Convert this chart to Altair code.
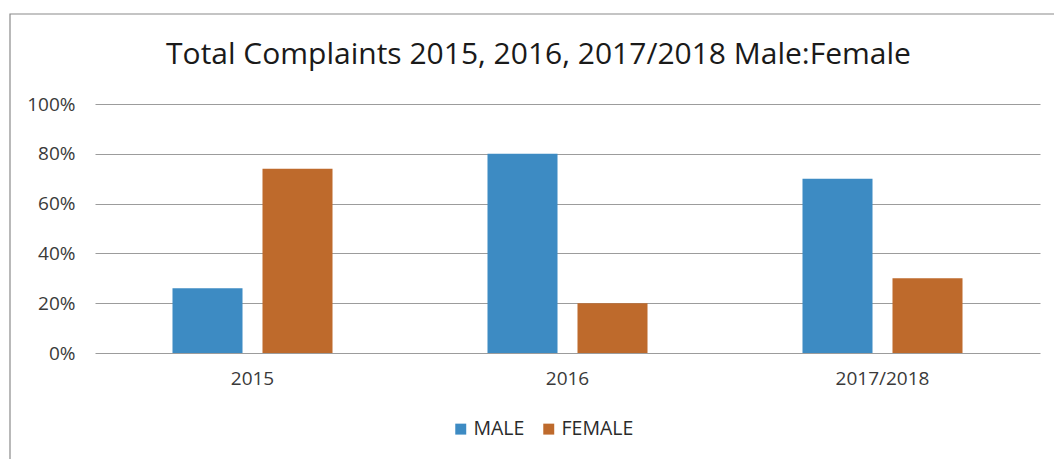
import altair as alt
import pandas as pd

periods = ["2015", "2016", "2017/2018"]
male = [0.26, 0.80, 0.70]
female = [0.74, 0.20, 0.30]
series = ["MALE", "FEMALE"]
colors = ["#3D8BC3", "#BE6A2C"]

rows = []
for i, p in enumerate(periods):
    rows.append({"period": p, "sex": "MALE", "value": male[i]})
    rows.append({"period": p, "sex": "FEMALE", "value": female[i]})
df = pd.DataFrame(rows)

FONT = "Open Sans"

frame = alt.Chart(pd.DataFrame({"a": [0]})).mark_rect(
    fill=None, fillOpacity=0, stroke="#8a8a8a", strokeWidth=1.2, clip=False
).encode(
    x=alt.value(-85), x2=alt.value(975), y=alt.value(-90), y2=alt.value(370)
)

bars = alt.Chart(df).mark_bar(stroke=None).encode(
    x=alt.X("period:N", sort=periods, title=None,
            scale=alt.Scale(paddingInner=0, paddingOuter=0),
            axis=alt.Axis(labelAngle=0, ticks=False, domain=False, grid=False,
                          labelFont=FONT, labelFontSize=19, labelColor="#3a3a3a",
                          labelPadding=16)),
    xOffset=alt.XOffset("sex:N", sort=series,
                        scale=alt.Scale(paddingInner=0.222, paddingOuter=0.861)),
    y=alt.Y("value:Q", title=None,
            scale=alt.Scale(domain=[0, 1]),
            axis=alt.Axis(format=".0%", values=[0, 0.2, 0.4, 0.6, 0.8, 1.0],
                          ticks=False, domain=False, gridColor="#9c9c9c",
                          gridWidth=1, labelFont=FONT, labelFontSize=19,
                          labelColor="#3a3a3a", labelPadding=20)),
    color=alt.Color("sex:N", sort=series,
                    scale=alt.Scale(domain=series, range=colors),
                    legend=alt.Legend(title=None, orient="none", direction="horizontal",
                                      legendX=356, legendY=315,
                                      symbolType="square", symbolSize=120,
                                      symbolStrokeWidth=0,
                                      labelFont=FONT, labelFontSize=19.5,
                                      labelColor="#2a2a2a", columnPadding=14,
                                      labelOffset=3)),
)

chart = alt.layer(frame, bars).properties(
    width=945, height=249,
    padding={"left": 95, "top": 104, "right": 14, "bottom": 106},
    autosize=alt.AutoSizeParams(type="none"),
    title=alt.Title("Total Complaints 2015, 2016, 2017/2018 Male:Female",
                    font=FONT, fontSize=30, fontWeight="normal", color="#1a1a1a",
                    anchor="middle", offset=0, dy=57, dx=-29),
    background="white",
).configure_view(stroke=None)

chart.save("out.html", embed_options={"renderer": "svg", "actions": False})
